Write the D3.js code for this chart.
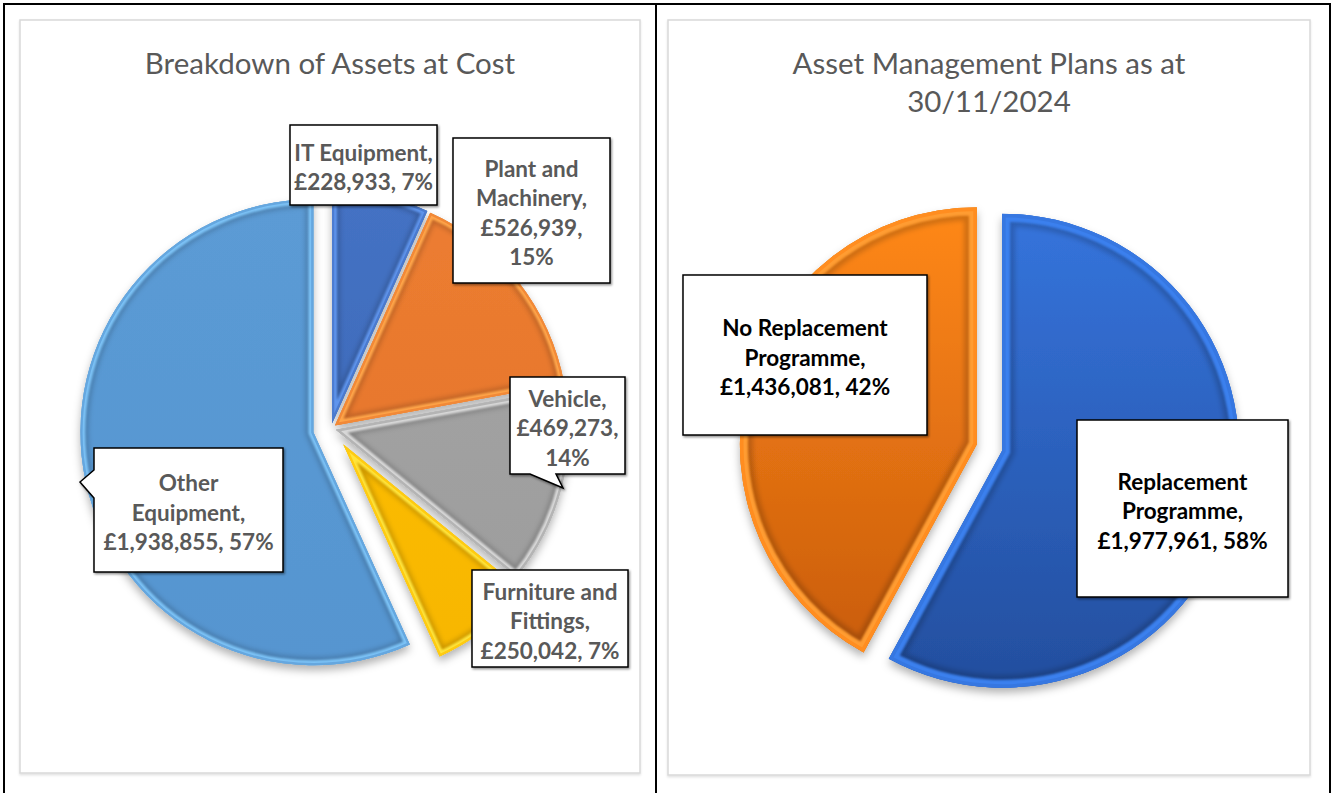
<!DOCTYPE html>
<html>
<head>
<meta charset="utf-8">
<script src="https://cdn.jsdelivr.net/npm/d3@7"></script>
<style>
  body { margin: 0; background: #fff; }
  svg { display: block; }
</style>
</head>
<body>
<div id="chart"></div>
<script>
/* Data */
const assetCategories = ['IT Equipment', 'Plant and Machinery', 'Vehicle', 'Furniture and Fittings', 'Other Equipment'];
const assetValues = [228933, 526939, 469273, 250042, 1938855];
const planCategories = ['Replacement Programme', 'No Replacement Programme'];
const planValues = [1977961, 1436081];
const assetTitle = ['Breakdown of Assets at Cost'];
const planTitle = ['Asset Management Plans as at', '30/11/2024'];

/* Styling */
const assetFill = ['#4472C4', '#ED7D31', '#A5A5A5', '#FFC000', '#5B9BD5'];
const assetFillDark = ['#3C65B2', '#E27229', '#9C9C9C', '#F7B600', '#5695D0'];
const assetRim = ['#5E95EE', '#FFA548', '#D8D8D8', '#FFE43A', '#7CC2F6'];
const planFill = ['#3574DC', '#FF8818'];
const planFillDark = ['#234E9E', '#C65A0C'];
const planRim = ['#3B80EE', '#FF9C30'];

const width = 1334
const height = 793
const fmtMoney = d3.format(',');
const fmtPct = d3.format('.0%');

const svg = d3.select('#chart')
  .append('svg')
  .attr('width', width)
  .attr('height', height)

const defs = svg.append('defs')

const pieShadow = defs.append('filter').attr('id', 'pieShadow')
  .attr('x', '-20%').attr('y', '-20%').attr('width', '140%').attr('height', '140%')
pieShadow.append('feDropShadow')
  .attr('dx', 0).attr('dy', 5).attr('stdDeviation', 4)
  .attr('flood-color', '#000').attr('flood-opacity', 0.3)

const softBlur = defs.append('filter').attr('id', 'softBlur')
softBlur.append('feGaussianBlur').attr('stdDeviation', 2.5)
const rimBlur = defs.append('filter').attr('id', 'rimBlur')
rimBlur.append('feGaussianBlur').attr('stdDeviation', 0.8)

const boxShadow = defs.append('filter').attr('id', 'boxShadow')
  .attr('x', '-10%').attr('y', '-10%').attr('width', '130%').attr('height', '130%')
boxShadow.append('feDropShadow')
  .attr('dx', 1.2).attr('dy', 1.5).attr('stdDeviation', 0.8)
  .attr('flood-color', '#000').attr('flood-opacity', 0.45)

const frameShadow = defs.append('filter').attr('id', 'frameShadow')
  .attr('x', '-5%').attr('y', '-5%').attr('width', '110%').attr('height', '110%')
frameShadow.append('feDropShadow')
  .attr('dx', 0).attr('dy', 1.5).attr('stdDeviation', 1)
  .attr('flood-color', '#000').attr('flood-opacity', 0.12)

/* table frame behind the two charts */
const frame = svg.append('g').attr('stroke', '#000').attr('stroke-width', 2)
frame.append('line').attr('x1', 3).attr('x2', 1331).attr('y1', 4).attr('y2', 4)
frame.append('line').attr('x1', 4).attr('x2', 4).attr('y1', 3).attr('y2', height)
frame.append('line').attr('x1', 656).attr('x2', 656).attr('y1', 3).attr('y2', height)
frame.append('line').attr('x1', 1330).attr('x2', 1330).attr('y1', 3).attr('y2', height)

function labelPath(b) {
  const t = b.tail
  if (t && t.side === 'bottom') {
    return `M${b.x},${b.y}H${b.x + b.w}V${b.y + b.h}H${t.b}L${t.tip[0]},${t.tip[1]}L${t.a},${b.y + b.h}H${b.x}Z`
  }
  if (t && t.side === 'left') {
    return `M${b.x},${b.y}H${b.x + b.w}V${b.y + b.h}H${b.x}V${t.b}L${t.tip[0]},${t.tip[1]}L${b.x},${t.a}Z`
  }
  return `M${b.x},${b.y}H${b.x + b.w}V${b.y + b.h}H${b.x}Z`
}

function drawChart(cfg) {
  const g = svg.append('g').attr('id', cfg.id)

  g.append('rect')
    .attr('x', cfg.frame[0]).attr('y', cfg.frame[1])
    .attr('width', cfg.frame[2]).attr('height', cfg.frame[3])
    .attr('fill', '#fff')
    .attr('stroke', '#d9d9d9')
    .attr('stroke-width', 1.5)
    .attr('filter', 'url(#frameShadow)')

  g.append('g').selectAll('text')
    .data(cfg.title)
    .join('text')
    .attr('x', cfg.frame[0] + cfg.frame[2] / 2)
    .attr('y', (d, i) => cfg.titleY + i * 38)
    .attr('text-anchor', 'middle')
    .attr('dominant-baseline', 'central')
    .attr('font-family', 'Lato, "Open Sans", sans-serif')
    .attr('font-size', 29.5)
    .attr('fill', '#595959')
    .text(d => d)

  const data = cfg.categories.map((c, i) => ({ name: c, value: cfg.values[i], i }))
  const total = d3.sum(cfg.values)
  const pie = d3.pie().sort(null).value(d => d.value)
  const arc = d3.arc().innerRadius(0).outerRadius(cfg.radius)
  const arcs = pie(data)

  const pieG = g.append('g')
    .attr('transform', `translate(${cfg.center[0]}, ${cfg.center[1]})`)

  // vertical shading per slice
  arcs.forEach((d, i) => {
    const grad = defs.append('linearGradient')
      .attr('id', `${cfg.id}-grad-${i}`)
      .attr('gradientUnits', 'userSpaceOnUse')
      .attr('x1', 0).attr('x2', 0)
      .attr('y1', -cfg.radius).attr('y2', cfg.radius)
    grad.append('stop').attr('offset', '0%').attr('stop-color', cfg.fill[i])
    grad.append('stop').attr('offset', '100%').attr('stop-color', cfg.fillDark[i])
    defs.append('clipPath').attr('id', `${cfg.id}-clip-${i}`)
      .append('path').attr('d', arc(d))
  })

  const slices = pieG.selectAll('g.slice')
    .data(arcs)
    .join('g')
    .attr('class', 'slice')
    .attr('transform', (d, i) => {
      const mid = (d.startAngle + d.endAngle) / 2
      const e = cfg.explode[i]
      return `translate(${Math.sin(mid) * e}, ${-Math.cos(mid) * e})`
    })

  slices.append('path')
    .attr('d', arc)
    .attr('fill', (d, i) => `url(#${cfg.id}-grad-${i})`)
    .attr('filter', 'url(#pieShadow)')

  const bevel = slices.append('g')
    .attr('clip-path', (d, i) => `url(#${cfg.id}-clip-${i})`)
  bevel.append('path')
    .attr('d', arc)
    .attr('fill', 'none')
    .attr('stroke', '#000')
    .attr('stroke-opacity', 0.18)
    .attr('stroke-width', cfg.bevel * 3.2)
    .attr('filter', 'url(#softBlur)')
  bevel.append('path')
    .attr('d', arc)
    .attr('fill', 'none')
    .attr('stroke', (d, i) => cfg.rim[i])
    .attr('stroke-width', cfg.bevel * 2)
    .attr('filter', 'url(#rimBlur)')
  bevel.append('path')
    .attr('d', arc)
    .attr('fill', 'none')
    .attr('stroke', (d, i) => cfg.fill[i])
    .attr('stroke-opacity', 0.7)
    .attr('stroke-width', cfg.bevel * 0.9)

  // data labels in callout boxes
  const labels = g.append('g').selectAll('g.label')
    .data(arcs)
    .join('g')
    .attr('class', 'label')

  labels.append('path')
    .attr('d', (d, i) => labelPath(cfg.boxes[i]))
    .attr('fill', '#fff')
    .attr('stroke', '#000')
    .attr('stroke-width', 1.5)
    .attr('filter', 'url(#boxShadow)')

  labels.each(function (d, i) {
    const b = cfg.boxes[i]
    const words = `${d.data.name}, £${fmtMoney(d.data.value)}, ${fmtPct(d.data.value / total)}`.split(' ')
    const lines = []
    let k = 0
    cfg.wordsPerLine[i].forEach(n => {
      lines.push(words.slice(k, k + n).join(' '))
      k += n
    })
    d3.select(this).selectAll('text')
      .data(lines)
      .join('text')
      .attr('x', b.x + b.w / 2)
      .attr('y', (t, j) => b.y + b.h / 2 + 2 + (j - (lines.length - 1) / 2) * 29.5)
      .attr('text-anchor', 'middle')
      .attr('dominant-baseline', 'central')
      .attr('font-family', 'Lato, "Open Sans", sans-serif')
      .attr('font-weight', 700)
      .attr('font-size', 22.5)
      .attr('fill', cfg.textColor)
      .text(t => t)
  })
}

drawChart({
  id: 'assets',
  frame: [20, 20, 620, 753],
  title: assetTitle,
  titleY: 62,
  categories: assetCategories,
  values: assetValues,
  center: [331, 428.5],
  radius: 233,
  explode: [5, 5, 5, 20, 18],
  bevel: 5,
  fill: assetFill,
  fillDark: assetFillDark,
  rim: assetRim,
  textColor: '#595959',
  wordsPerLine: [[2, 2], [2, 1, 1, 1], [1, 1, 1], [2, 1, 2], [1, 1, 2]],
  boxes: [
    { x: 290, y: 125, w: 147, h: 80 },
    { x: 453, y: 138, w: 157, h: 145 },
    { x: 510, y: 377, w: 115, h: 97, tail: { side: 'bottom', a: 530, b: 556, tip: [563, 488] } },
    { x: 472, y: 570, w: 156, h: 97 },
    { x: 94, y: 448, w: 189, h: 124, tail: { side: 'left', a: 470, b: 498, tip: [80, 482] } }
  ]
})

drawChart({
  id: 'plans',
  frame: [668, 20, 642, 755],
  title: planTitle,
  titleY: 62,
  categories: planCategories,
  values: planValues,
  center: [989.5, 447.5],
  radius: 237,
  explode: [13, 13],
  bevel: 8,
  fill: planFill,
  fillDark: planFillDark,
  rim: planRim,
  textColor: '#000',
  wordsPerLine: [[1, 1, 2], [2, 1, 2]],
  boxes: [
    { x: 1077, y: 420, w: 211, h: 177 },
    { x: 683, y: 275, w: 244, h: 160 }
  ]
})
</script>
</body>
</html>
